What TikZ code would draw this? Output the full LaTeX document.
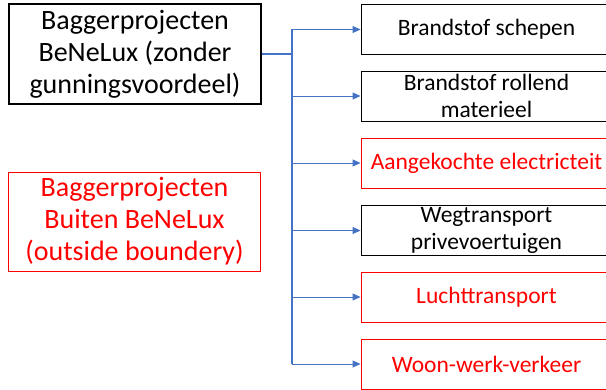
\documentclass[tikz,border=0pt]{standalone}
\usepackage{fontspec}
\setmainfont{Carlito}
\usetikzlibrary{arrows.meta}
\definecolor{linkblue}{HTML}{4472C4}
\definecolor{alertred}{HTML}{FF0000}
\tikzset{
  bigbox/.style={draw=black, line width=1.2pt, minimum width=252pt, minimum height=100pt,
    inner sep=0pt, align=center, font=\fontsize{28}{32}\selectfont},
  catbox/.style={draw=black, line width=0.9pt, minimum width=251pt, minimum height=50pt,
    inner sep=0pt, align=center, font=\fontsize{23.5}{27}\selectfont},
  redbox/.style={draw=alertred, text=alertred},
  trunk/.style={draw=linkblue, line width=1.8pt},
  branch/.style={draw=linkblue, line width=0.9pt, -{Triangle[length=8pt,width=7pt]}}
}
\begin{document}
\begin{tikzpicture}[x=1pt, y=-1pt]
  \clip (0,0) rectangle (606,390);
  % source boxes
  \node[bigbox] (main) at (135,54) {Baggerprojecten\\BeNeLux (zonder\\gunningsvoordeel)};
  \node[bigbox, redbox, line width=0.9pt, minimum height=99pt] (outside) at (134.5,221.5)
    {Baggerprojecten\\Buiten BeNeLux\\(outside boundery)};
  % emission categories
  \node[catbox] (c1) at (486.5,29.5) {Brandstof schepen};
  \node[catbox] (c2) at (486.5,96) {Brandstof rollend\\materieel};
  \node[catbox, redbox] (c3) at (486.5,163) {Aangekochte electricteit};
  \node[catbox] (c4) at (486.5,230.5) {Wegtransport\\privevoertuigen};
  \node[catbox, redbox] (c5) at (486.5,297) {Luchttransport};
  \node[catbox, redbox] (c6) at (486.5,364) {Woon-werk-verkeer};
  % connector tree
  \coordinate (top) at (292,29.5);
  \coordinate (bot) at (292,364);
  \draw[trunk] (top) -- (bot);
  \draw[trunk] (main.east) -- (main.east -| top);
  \foreach \c in {c1,c2,c3,c4,c5,c6}
    \draw[branch] (top |- \c.west) -- (\c.west);
\end{tikzpicture}
\end{document}
